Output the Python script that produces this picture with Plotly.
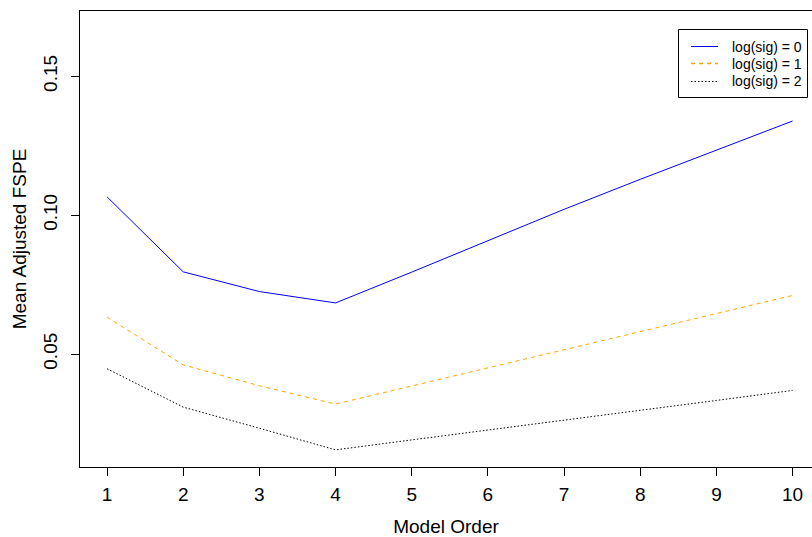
import plotly.graph_objects as go

model_order = [1, 2, 3, 4, 5, 6, 7, 8, 9, 10]
fspe_sig0 = [0.1066, 0.0796, 0.0725, 0.0684, 0.0795, 0.0909, 0.1021, 0.1129, 0.1235, 0.1339]
fspe_sig1 = [0.0633, 0.0461, 0.0386, 0.0320, 0.0385, 0.0450, 0.0516, 0.0581, 0.0646, 0.0711]
fspe_sig2 = [0.0447, 0.0309, 0.0233, 0.0155, 0.0191, 0.0226, 0.0262, 0.0298, 0.0333, 0.0369]
series_names = ["log(sig) = 0", "log(sig) = 1", "log(sig) = 2"]
y_ticks = [0.05, 0.10, 0.15]
y_tick_labels = ["0.05", "0.10", "0.15"]

FONT = "Liberation Sans, Arial, sans-serif"
colors = ["#0000FF", "#FFA500", "#000000"]
dashes = ["solid", "4px,4px", "1.5px,2px"]

# plot area in pixels (for placing the legend box)
L, T, W, H = 80, 11, 732, 456


def px_x(p):
    return (p - L) / W


def px_y(p):
    return (T + H - p) / H


fig = go.Figure()
for name, vals, c, d in zip(series_names, [fspe_sig0, fspe_sig1, fspe_sig2], colors, dashes):
    fig.add_trace(go.Scatter(x=model_order, y=vals, mode="lines", name=name,
                             line=dict(color=c, width=1, dash=d), showlegend=False))

# legend drawn R-style
shapes = [dict(type="rect", xref="paper", yref="paper",
               x0=px_x(678.5), x1=px_x(807.5), y0=px_y(97.5), y1=px_y(29.5),
               line=dict(color="black", width=1), fillcolor="white", layer="above")]
annotations = []
row_y = [46.5, 63.5, 81.5]
sample_w = [1, 1.3, 1]
for name, c, d, ry, sw in zip(series_names, colors, dashes, row_y, sample_w):
    shapes.append(dict(type="line", xref="paper", yref="paper",
                       x0=px_x(691), x1=px_x(718), y0=px_y(ry), y1=px_y(ry),
                       line=dict(color=c, width=sw, dash=d), layer="above"))
    annotations.append(dict(text=name, xref="paper", yref="paper", x=px_x(730), y=px_y(ry),
                            xanchor="left", yanchor="middle", showarrow=False,
                            font=dict(size=14, family=FONT, color="black")))

fig.update_layout(
    width=812, height=537,
    paper_bgcolor="white", plot_bgcolor="white",
    margin=dict(l=L, r=812 - L - W, t=T, b=537 - T - H, pad=0),
    font=dict(family=FONT, color="black"),
    showlegend=False,
    shapes=shapes, annotations=annotations,
    xaxis=dict(
        range=[0.645, 10.255], tickmode="array", tickvals=model_order,
        ticktext=[str(v) for v in model_order],
        showgrid=False, zeroline=False, automargin=False,
        showline=True, linecolor="black", linewidth=1, mirror=True,
        ticks="outside", ticklen=8, tickcolor="black", tickwidth=1,
        ticklabelstandoff=2,
        tickfont=dict(size=19, family=FONT, color="black"),
        title=dict(text="Model Order", font=dict(size=19, family=FONT, color="black"),
                   standoff=16),
    ),
    yaxis=dict(
        range=[0.00934, 0.1735], tickmode="array", tickvals=y_ticks, ticktext=y_tick_labels,
        showgrid=False, zeroline=False, automargin=False,
        showline=True, linecolor="black", linewidth=1, mirror=False,
        ticks="outside", ticklen=8, tickcolor="black", tickwidth=1,
        tickangle=-90, ticklabelstandoff=6,
        tickfont=dict(size=19, family=FONT, color="black"),
        title=dict(text="Mean Adjusted FSPE", font=dict(size=19, family=FONT, color="black"),
                   standoff=8),
    ),
)

fig.write_html(
    "out.html",
    config={"displayModeBar": False},
    post_script="document.body.style.margin='0';document.body.style.overflow='hidden';",
)
